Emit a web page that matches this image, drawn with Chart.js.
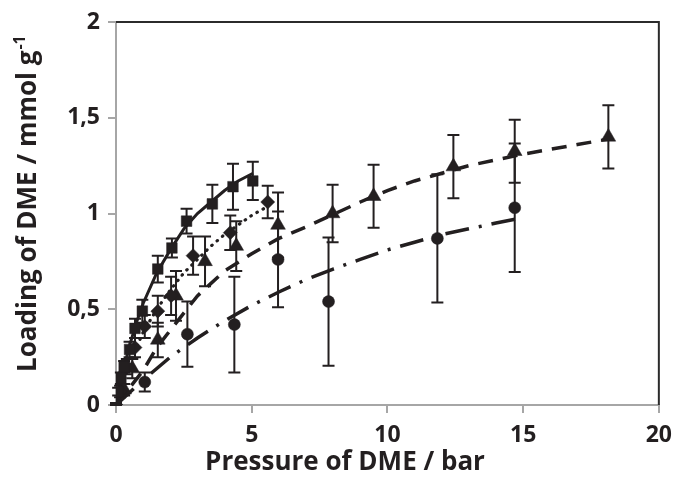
<!DOCTYPE html>
<html><head><meta charset="utf-8">
<script src="https://cdn.jsdelivr.net/npm/chart.js@4/dist/chart.umd.min.js"></script>
<style>html,body{margin:0;padding:0;background:#fff}canvas{display:block}</style>
</head><body>
<canvas id="c" width="681" height="478"></canvas>
<script>
// ---------- tick labels / titles ----------
const xTickValues = [0, 5, 10, 15, 20];
const yTickValues = [0, 0.5, 1, 1.5, 2];
const xTitle = 'Pressure of DME / bar';
const yTitleMain = 'Loading of DME / mmol g';
const yTitleSup = '-1';

// ---------- measured series (squares) ----------
const sqX   = [0, 0.08, 0.18, 0.3, 0.5, 0.7, 0.97, 1.54, 2.06, 2.6, 3.55, 4.31, 5.04];
const sqY   = [0, 0.07, 0.14, 0.2, 0.29, 0.40, 0.49, 0.71, 0.82, 0.96, 1.05, 1.14, 1.17];
const sqErr = [0.01, 0.02, 0.03, 0.03, 0.04, 0.05, 0.06, 0.07, 0.05, 0.065, 0.10, 0.12, 0.10];

// ---------- diamonds ----------
const dmX   = [0, 0.15, 0.4, 0.7, 1.06, 1.54, 2.03, 2.84, 4.21, 5.59];
const dmY   = [0, 0.07, 0.2, 0.3, 0.41, 0.49, 0.57, 0.78, 0.90, 1.06];
const dmErr = [0.01, 0.03, 0.04, 0.05, 0.06, 0.08, 0.10, 0.10, 0.09, 0.085];

// ---------- triangles ----------
const trX   = [0, 0.3, 0.6, 1.54, 2.21, 3.28, 4.43, 5.97, 7.98, 9.49, 12.43, 14.69, 18.14];
const trY   = [0, 0.08, 0.19, 0.34, 0.57, 0.75, 0.83, 0.94, 1.00, 1.09, 1.245, 1.325, 1.40];
const trErr = [0.01, 0.03, 0.05, 0.09, 0.13, 0.13, 0.13, 0.17, 0.15, 0.165, 0.165, 0.165, 0.165];

// ---------- circles ----------
const ciX   = [0, 1.06, 2.63, 4.36, 5.97, 7.83, 11.84, 14.69];
const ciY   = [0, 0.12, 0.37, 0.42, 0.76, 0.54, 0.87, 1.03];
const ciErr = [0.01, 0.05, 0.17, 0.25, 0.25, 0.335, 0.335, 0.335];

// ---------- fitted curves ----------
const fitSolidX = [0, 0.25, 0.5, 0.75, 1, 1.5, 2, 2.5, 3, 3.5, 4, 4.5, 5.05];
const fitSolidY = [0, 0.17, 0.31, 0.43, 0.53, 0.69, 0.81, 0.92, 1.00, 1.06, 1.12, 1.17, 1.21];
const fitDotX   = [0, 0.5, 1, 1.5, 2, 2.5, 3, 3.5, 4, 4.5, 5, 5.5];
const fitDotY   = [0, 0.22, 0.38, 0.50, 0.60, 0.69, 0.76, 0.83, 0.89, 0.94, 0.99, 1.03];
const fitDashX  = [0, 0.5, 1, 1.5, 2, 3, 4, 5, 6, 7, 8, 9, 10, 11, 12, 13, 14, 15, 16, 17, 18.2];
const fitDashY  = [0, 0.09, 0.18, 0.30, 0.39, 0.57, 0.70, 0.79, 0.87, 0.93, 0.995, 1.06, 1.12, 1.17, 1.21, 1.25, 1.28, 1.31, 1.335, 1.36, 1.39];
const fitDDX    = [0, 1, 2, 3, 4, 5, 6, 7, 8, 9, 10, 11, 12, 13, 14, 14.7];
const fitDDY    = [0, 0.13, 0.25, 0.35, 0.44, 0.52, 0.59, 0.655, 0.71, 0.76, 0.81, 0.85, 0.89, 0.92, 0.95, 0.97];

const INK = '#231f20';
const AXIS = '#a6a6a6';
const FONT = '"Open Sans"';

const pts = (xs, ys) => xs.map((x, i) => ({x: x, y: ys[i]}));

function lineDS(xs, ys, dash, width, cap) {
  return {data: pts(xs, ys), showLine: true, pointRadius: 0, borderColor: INK,
    borderWidth: width, borderDash: dash, borderCapStyle: cap || 'butt',
    fill: false, tension: 0, order: 2};
}
function markDS(xs, ys, err, style, r) {
  return {data: pts(xs, ys), showLine: false, pointStyle: style, pointRadius: r,
    pointBackgroundColor: INK, pointBorderColor: INK, pointBorderWidth: 0.5,
    errors: err, order: 1};
}

const errorBars = {
  id: 'errorBars',
  beforeDatasetsDraw(chart) {
    const {ctx, scales: {x, y}} = chart;
    ctx.save();
    ctx.strokeStyle = INK; ctx.lineWidth = 2;
    chart.data.datasets.forEach(ds => {
      if (!ds.errors) return;
      ds.data.forEach((p, i) => {
        const e = ds.errors[i];
        const px = x.getPixelForValue(p.x);
        const t = y.getPixelForValue(p.y + e);
        const b = y.getPixelForValue(Math.max(0, p.y - e));
        ctx.beginPath();
        ctx.moveTo(px, t); ctx.lineTo(px, b);
        ctx.moveTo(px - 6, t); ctx.lineTo(px + 6, t);
        ctx.moveTo(px - 6, b); ctx.lineTo(px + 6, b);
        ctx.stroke();
      });
    });
    ctx.restore();
  }
};

const frame = {
  id: 'frame',
  afterDatasetsDraw(chart) {
    const {ctx, chartArea: a} = chart;
    ctx.save();
    ctx.strokeStyle = '#2b2b2b'; ctx.lineWidth = 2;
    ctx.beginPath();
    ctx.moveTo(a.left, a.top); ctx.lineTo(a.right, a.top); ctx.lineTo(a.right, a.bottom);
    ctx.stroke();
    ctx.restore();
  },
  afterDraw(chart) {
    const {ctx} = chart;
    ctx.save();
    ctx.fillStyle = INK;
    ctx.font = 'bold 26px ' + FONT;
    ctx.textAlign = 'center'; ctx.textBaseline = 'alphabetic';
    ctx.fillText(xTitle, 345, 470);
    ctx.translate(36, 372); ctx.rotate(-Math.PI / 2);
    ctx.textAlign = 'left';
    ctx.fillText(yTitleMain, 0, 0);
    const w = ctx.measureText(yTitleMain).width;
    ctx.font = 'bold 16px ' + FONT;
    ctx.fillText(yTitleSup, w + 1, -11);
    ctx.restore();
  }
};

new Chart(document.getElementById('c'), {
  type: 'scatter',
  data: {
    datasets: [
      lineDS(fitSolidX, fitSolidY, [], 3),
      lineDS(fitDotX, fitDotY, [0.5, 6.5], 3.2, 'round'),
      lineDS(fitDashX, fitDashY, [15, 10], 3.5),
      lineDS(fitDDX, fitDDY, [24, 10, 3, 10], 3.5),
      markDS(sqX, sqY, sqErr, 'rect', 7.5),
      markDS(dmX, dmY, dmErr, 'rectRot', 7),
      markDS(trX, trY, trErr, 'triangle', 8.5),
      markDS(ciX, ciY, ciErr, 'circle', 6)
    ]
  },
  options: {
    responsive: false, animation: false, devicePixelRatio: 1,
    layout: {padding: {left: 0, right: 16, top: 22, bottom: 0}},
    plugins: {legend: {display: false}, tooltip: {enabled: false}},
    scales: {
      x: {
        type: 'linear', min: 0, max: 20,
        afterBuildTicks: s => { s.ticks = xTickValues.map(v => ({value: v})); },
        afterFit: s => { s.height = 73; },
        ticks: {color: INK, font: {family: FONT, weight: 'bold', size: 23}, padding: 9,
                callback: v => String(v)},
        grid: {drawOnChartArea: false, drawTicks: true, tickLength: 8, color: AXIS, lineWidth: 2},
        border: {color: AXIS, width: 2},
        title: {display: false, text: xTitle}
      },
      y: {
        type: 'linear', min: 0, max: 2,
        afterBuildTicks: s => { s.ticks = yTickValues.map(v => ({value: v})); },
        afterFit: s => { s.width = 116; },
        ticks: {color: INK, font: {family: FONT, weight: 'bold', size: 23}, padding: 8,
                callback: v => String(v).replace('.', ',')},
        grid: {drawOnChartArea: false, drawTicks: true, tickLength: 8, color: AXIS, lineWidth: 2},
        border: {color: AXIS, width: 2},
        title: {display: false, text: yTitleMain + yTitleSup}
      }
    }
  },
  plugins: [errorBars, frame]
});
</script>
</body></html>
